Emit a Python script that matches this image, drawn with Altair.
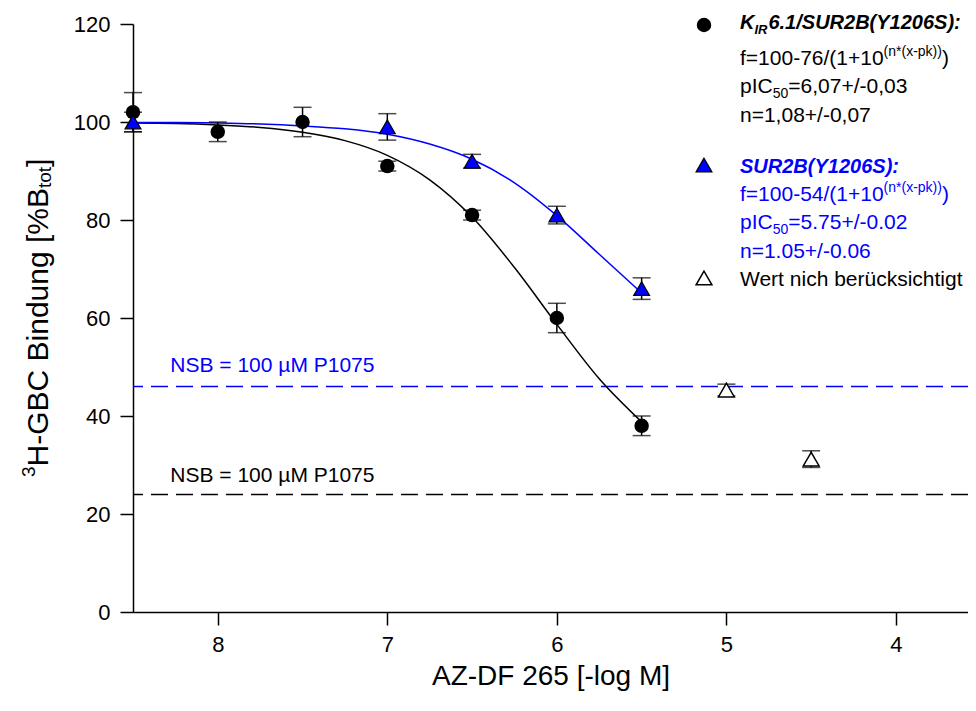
import altair as alt
import pandas as pd

# ---------------- data ----------------
kir_x = [8.5, 8.0, 7.5, 7.0, 6.5, 6.0, 5.5]
kir_y = [102.0, 98.0, 100.0, 91.0, 81.0, 60.0, 38.0]
kir_err = [4.0, 2.0, 3.0, 1.0, 1.0, 3.0, 2.0]

sur_x = [8.5, 7.0, 6.5, 6.0, 5.5]
sur_y = [100.0, 99.0, 92.0, 81.0, 66.0]
sur_err = [2.0, 2.7, 1.4, 1.8, 2.2]

exc_x = [5.0, 4.5]
exc_y = [45.3, 31.2]
exc_err = [1.2, 1.7]

fit_x = [8.5, 8.25, 8.0, 7.75, 7.5, 7.25, 7.0, 6.75, 6.5, 6.25, 6.0, 5.75, 5.5]
kir_fit = [99.8, 99.7, 99.4, 98.9, 97.9, 96.2, 93.2, 88.2, 80.6, 70.3, 58.7, 47.6, 38.8]
sur_fit = [99.9, 99.9, 99.8, 99.6, 99.2, 98.6, 97.5, 95.5, 92.4, 87.6, 80.9, 73.0, 65.1]

nsb_levels = [46.0, 24.0]
nsb_text = ["NSB = 100 µM P1075", "NSB = 100 µM P1075"]
nsb_label_x = [8.28, 8.28]
nsb_label_y = [49.0, 26.5]

x_ticks = [8, 7, 6, 5, 4]
y_ticks = [0, 20, 40, 60, 80, 100, 120]

x_title = "AZ-DF 265 [-log M]"
y_title_parts = ["3", "H-GBC Bindung [%B", "tot", "]"]

leg_black = ["K", "IR", "6.1/SUR2B(Y1206S):", "f=100-76/(1+10", "(n*(x-pk))", ")",
             "pIC", "50", "=6,07+/-0,03", "n=1,08+/-0,07"]
leg_blue = ["SUR2B(Y1206S):", "f=100-54/(1+10", "(n*(x-pk))", ")",
            "pIC", "50", "=5.75+/-0.02", "n=1.05+/-0.06"]
leg_excl = "Wert nich berücksichtigt"

# ---------------- styling helpers ----------------
FONT = "Liberation Sans"
BLUE = "#0000ff"

W_REG = {**{d: 556 for d in "0123456789"}, " ": 278, ".": 278, ",": 278, "/": 278,
         "(": 333, ")": 333, "+": 584, "-": 333, "=": 584, "*": 389, "f": 278, "n": 556,
         "x": 500, "p": 556, "k": 500, "I": 278, "C": 722, "K": 667, "R": 722, "S": 667,
         "U": 722, "B": 667, "Y": 667, ":": 278, "t": 278, "o": 556, "H": 722, "G": 778,
         "i": 222, "d": 556, "u": 556, "g": 556, "[": 278, "%": 889, "]": 278}
W_BOLD = {**{d: 556 for d in "0123456789"}, ".": 278, "/": 278, "(": 333, ")": 333,
          ":": 333, "K": 722, "I": 278, "R": 722, "S": 667, "U": 722, "B": 722, "Y": 667}


def tw(s, size, bold=False):
    tab = W_BOLD if bold else W_REG
    return sum(tab.get(c, 556) for c in s) * size / 1000.0


one = pd.DataFrame({"k": [0]})


def piece(txt, px, py, size, color="black", bold=False, italic=False, angle=0):
    return alt.Chart(one).mark_text(
        text=txt, font=FONT, fontSize=size, color=color,
        fontWeight="bold" if bold else "normal",
        fontStyle="italic" if italic else "normal",
        align="left", baseline="alphabetic", angle=angle,
    ).encode(x=alt.value(px), y=alt.value(py))


xs = alt.Scale(domain=[3.575, 8.5], reverse=True, nice=False, zero=False)
ys = alt.Scale(domain=[0, 120], nice=False, zero=False)

X = alt.X("x:Q", scale=xs,
          axis=alt.Axis(values=x_ticks, format="d", title=x_title, grid=False))
Y = alt.Y("y:Q", scale=ys, axis=alt.Axis(values=y_ticks, title=None, grid=False))

# ---------------- tables ----------------
pts_k = pd.DataFrame({"x": kir_x, "y": kir_y,
                      "lo": [a - b for a, b in zip(kir_y, kir_err)],
                      "hi": [a + b for a, b in zip(kir_y, kir_err)]})
pts_s = pd.DataFrame({"x": sur_x, "y": sur_y,
                      "lo": [a - b for a, b in zip(sur_y, sur_err)],
                      "hi": [a + b for a, b in zip(sur_y, sur_err)]})
pts_e = pd.DataFrame({"x": exc_x, "y": exc_y,
                      "lo": [a - b for a, b in zip(exc_y, exc_err)],
                      "hi": [a + b for a, b in zip(exc_y, exc_err)]})
err_all = pd.concat([pts_k, pts_s, pts_e], ignore_index=True)

fit_k = pd.DataFrame({"x": fit_x, "y": kir_fit})
fit_s = pd.DataFrame({"x": fit_x, "y": sur_fit})
nsb = pd.DataFrame({"y": nsb_levels, "c": [BLUE, "black"]})
nsb_lab = pd.DataFrame({"x": nsb_label_x, "y": nsb_label_y, "t": nsb_text, "c": [BLUE, "black"]})

CIRC = 210
TRI = 250

# ---------------- layers ----------------
layers = []

layers.append(alt.Chart(nsb).mark_rule(strokeDash=[17, 8], strokeWidth=1.5).encode(
    y=Y, color=alt.Color("c:N", scale=None)))
layers.append(alt.Chart(nsb_lab).mark_text(
    font=FONT, fontSize=21, align="left", baseline="alphabetic").encode(
    x=X, y=Y, text="t:N", color=alt.Color("c:N", scale=None)))

layers.append(alt.Chart(fit_k).mark_line(color="black", strokeWidth=1.5,
                                         interpolate="monotone").encode(x=X, y=Y))
layers.append(alt.Chart(fit_s).mark_line(color=BLUE, strokeWidth=1.5,
                                         interpolate="monotone").encode(x=X, y=Y))

layers.append(alt.Chart(err_all).mark_rule(color="black", strokeWidth=1.5).encode(
    x=X, y=alt.Y("lo:Q", scale=ys), y2="hi:Q"))
layers.append(alt.Chart(err_all).mark_tick(color="black", orient="horizontal", size=18,
                                           thickness=1.5).encode(x=X, y=alt.Y("lo:Q", scale=ys)))
layers.append(alt.Chart(err_all).mark_tick(color="black", orient="horizontal", size=18,
                                           thickness=1.5).encode(x=X, y=alt.Y("hi:Q", scale=ys)))

layers.append(alt.Chart(pts_k).mark_point(shape="circle", filled=True, color="black",
                                          size=CIRC, opacity=1).encode(x=X, y=Y))
layers.append(alt.Chart(pts_s).mark_point(shape="triangle-up", filled=True, fill=BLUE,
                                          stroke="black", strokeWidth=1.2, size=TRI,
                                          opacity=1).encode(x=X, y=Y))
layers.append(alt.Chart(pts_e).mark_point(shape="triangle-up", filled=True, fill="white",
                                          stroke="black", strokeWidth=1.5, size=TRI,
                                          opacity=1).encode(x=X, y=Y))

# ---------------- legend (right block) ----------------
MX, LX = 571, 607
BS = 20  # bold heading size
layers.append(alt.Chart(one).mark_point(shape="circle", filled=True, color="black",
                                        size=CIRC, opacity=1).encode(
    x=alt.value(MX), y=alt.value(1)))
layers.append(alt.Chart(one).mark_point(shape="triangle-up", filled=True, fill=BLUE,
                                        stroke="black", strokeWidth=1.2, size=TRI,
                                        opacity=1).encode(x=alt.value(MX), y=alt.value(141)))
layers.append(alt.Chart(one).mark_point(shape="triangle-up", filled=True, fill="white",
                                        stroke="black", strokeWidth=1.5, size=TRI,
                                        opacity=1).encode(x=alt.value(MX), y=alt.value(254)))

# black block
b1 = 5
x0 = LX
layers.append(piece(leg_black[0], x0, b1, BS, bold=True, italic=True))
x0 += tw(leg_black[0], BS, True)
layers.append(piece(leg_black[1], x0, b1 + 5, 13, bold=True, italic=True))
x0 += tw(leg_black[1], 13, True) + 1
layers.append(piece(leg_black[2], x0, b1, BS, bold=True, italic=True))

b2 = 41
x0 = LX
layers.append(piece(leg_black[3], x0, b2, 21))
x0 += tw(leg_black[3], 21)
layers.append(piece(leg_black[4], x0, b2 - 9, 14))
x0 += tw(leg_black[4], 14)
layers.append(piece(leg_black[5], x0, b2, 21))

b3 = 69
x0 = LX
layers.append(piece(leg_black[6], x0, b3, 21))
x0 += tw(leg_black[6], 21)
layers.append(piece(leg_black[7], x0, b3 + 5, 14))
x0 += tw(leg_black[7], 14)
layers.append(piece(leg_black[8], x0, b3, 21))

layers.append(piece(leg_black[9], LX, 98, 21))

# blue block
layers.append(piece(leg_blue[0], LX, 149, BS, color=BLUE, bold=True, italic=True))
b2 = 177
x0 = LX
layers.append(piece(leg_blue[1], x0, b2, 21, color=BLUE))
x0 += tw(leg_blue[1], 21)
layers.append(piece(leg_blue[2], x0, b2 - 9, 14, color=BLUE))
x0 += tw(leg_blue[2], 14)
layers.append(piece(leg_blue[3], x0, b2, 21, color=BLUE))
b3 = 205
x0 = LX
layers.append(piece(leg_blue[4], x0, b3, 21, color=BLUE))
x0 += tw(leg_blue[4], 21)
layers.append(piece(leg_blue[5], x0, b3 + 5, 14, color=BLUE))
x0 += tw(leg_blue[5], 14)
layers.append(piece(leg_blue[6], x0, b3, 21, color=BLUE))
layers.append(piece(leg_blue[7], LX, 234, 21, color=BLUE))

layers.append(piece(leg_excl, LX, 262, 21))

# ---------------- y-axis title built from pieces (rotated) ----------------
TX = -85
ty = 453
layers.append(piece(y_title_parts[0], TX - 13, ty, 19, angle=270))
ty -= tw(y_title_parts[0], 19)
layers.append(piece(y_title_parts[1], TX, ty, 30, angle=270))
ty -= tw(y_title_parts[1], 30)
layers.append(piece(y_title_parts[2], TX + 3, ty, 19, angle=270))
ty -= tw(y_title_parts[2], 19)
layers.append(piece(y_title_parts[3], TX, ty, 30, angle=270))

chart = alt.layer(*layers).properties(
    width=835, height=588,
    autosize=alt.AutoSizeParams(type="none"),
    padding={"left": 125, "top": 16, "right": 0, "bottom": 84},
    background="white",
).configure_view(stroke=None).configure_axis(
    domainColor="black", domainWidth=1.5, tickColor="black", tickWidth=1.5,
    tickSize=13, labelFont=FONT, labelFontSize=22, labelColor="black",
    titleFont=FONT, titleFontSize=28, titleFontWeight="normal", titleColor="black",
).configure_axisX(labelPadding=9, titlePadding=7).configure_axisY(labelPadding=10)

chart.save("out.html", embed_options={"renderer": "svg", "actions": False})
